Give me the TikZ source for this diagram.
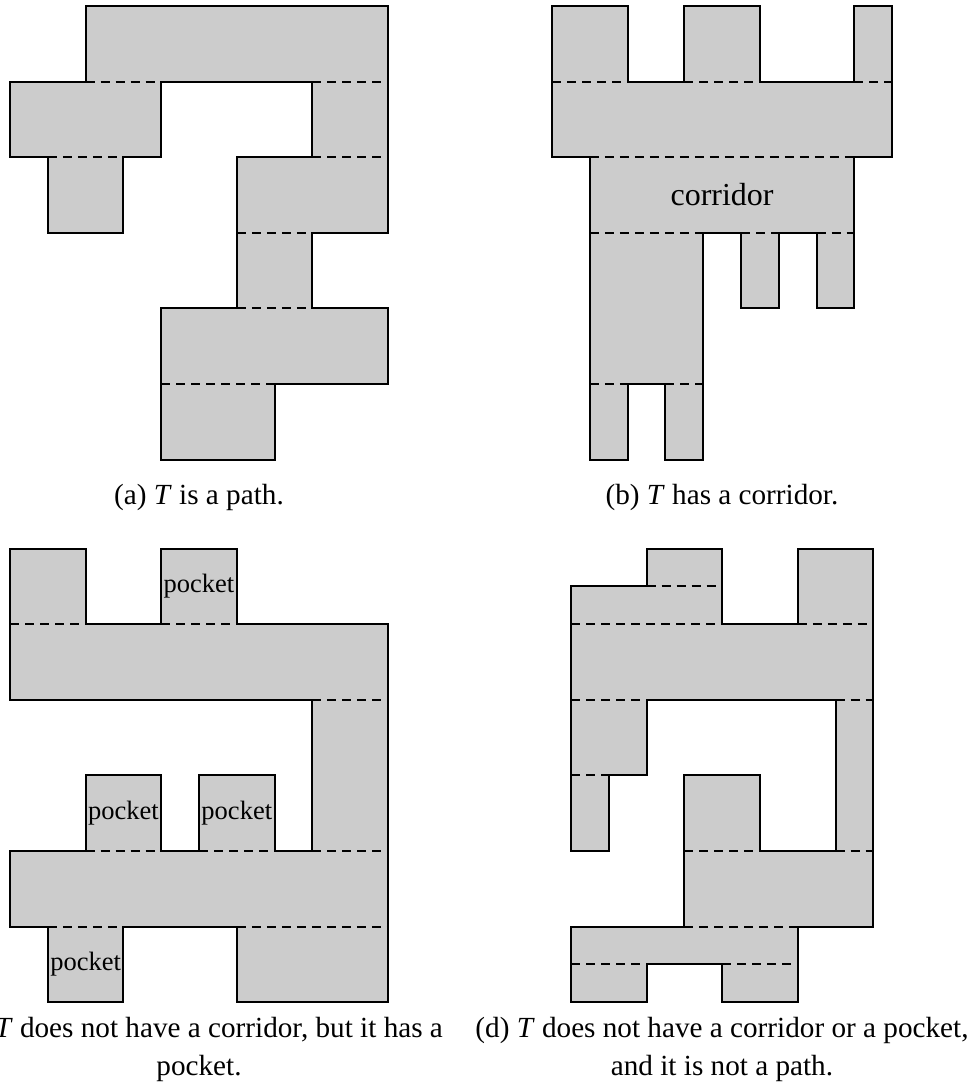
\documentclass[tikz,border=0pt]{standalone}
\usepackage{fontspec}
\setmainfont{Liberation Serif}
\definecolor{cellfill}{RGB}{204,204,204}
\tikzset{
  region/.style={fill=cellfill, draw=black, line width=2pt, line join=miter},
  cut/.style={draw=black, line width=2pt, dash pattern=on 9pt off 6pt},
  pocketlabel/.style={font=\fontsize{26.5}{26.5}\selectfont, inner sep=0pt},
  corridorlabel/.style={font=\fontsize{32}{32}\selectfont, inner sep=0pt},
  captiontext/.style={font=\fontsize{29.2}{36}\selectfont, anchor=base, inner sep=0pt},
}
\begin{document}
\begin{tikzpicture}[x=1pt, y=-1pt]
\useasboundingbox (0,0) rectangle (973,1090);

% (a) a path of rectangles
\begin{scope}[shift={(10pt,-6pt)}, x=37.8pt, y=-75.6pt]
  \draw[region] (2,0) -- (10,0) -- (10,3) -- (8,3) -- (8,4) -- (10,4) -- (10,5) -- (7,5) -- (7,6) -- (4,6) -- (4,4) -- (6,4) -- (6,2) -- (8,2) -- (8,1) -- (4,1) -- (4,2) -- (3,2) -- (3,3) -- (1,3) -- (1,2) -- (0,2) -- (0,1) -- (2,1) -- cycle;
  \draw[cut] (2,1) -- (4,1) (8,1) -- (10,1) (1,2) -- (3,2) (8,2) -- (10,2)
             (6,3) -- (8,3) (6,4) -- (8,4) (4,5) -- (7,5);
\end{scope}

% (b) a polygon with a corridor
\begin{scope}[shift={(552pt,-6pt)}, x=37.8pt, y=-75.6pt]
  \draw[region] (0,0) -- (2,0) -- (2,1) -- (3.5,1) -- (3.5,0) -- (5.5,0) -- (5.5,1) -- (8,1) -- (8,0) -- (9,0) -- (9,2) -- (8,2) -- (8,4) -- (7,4) -- (7,3) -- (6,3) -- (6,4) -- (5,4) -- (5,3) -- (4,3) -- (4,6) -- (3,6) -- (3,5) -- (2,5) -- (2,6) -- (1,6) -- (1,2) -- (0,2) -- cycle;
  \draw[cut] (0,1) -- (2,1) (3.5,1) -- (5.5,1) (8,1) -- (9,1) (1,2) -- (8,2)
             (1,3) -- (4,3) (5,3) -- (6,3) (7,3) -- (8,3) (1,5) -- (2,5) (3,5) -- (4,5);
  \node[corridorlabel] (corr) at (4.5,2.5) {corridor};
\end{scope}

% (c) no corridor, but pockets
\begin{scope}[shift={(10pt,-548.5pt)}, x=37.8pt, y=-75.6pt]
  \draw[region] (0,0) -- (2,0) -- (2,1) -- (4,1) -- (4,0) -- (6,0) -- (6,1) -- (10,1) -- (10,6) -- (6,6) -- (6,5) -- (3,5) -- (3,6) -- (1,6) -- (1,5) -- (0,5) -- (0,4) -- (2,4) -- (2,3) -- (4,3) -- (4,4) -- (5,4) -- (5,3) -- (7,3) -- (7,4) -- (8,4) -- (8,2) -- (0,2) -- cycle;
  \draw[cut] (0,1) -- (2,1) (4,1) -- (6,1) (8,2) -- (10,2) (2,4) -- (4,4)
             (5,4) -- (7,4) (8,4) -- (10,4) (1,5) -- (3,5) (6,5) -- (10,5);
  \node[pocketlabel] (pk1) at (5,0.5) {pocket};
  \node[pocketlabel] (pk2) at (3,3.5) {pocket};
  \node[pocketlabel] (pk3) at (6,3.5) {pocket};
  \node[pocketlabel] (pk4) at (2,5.5) {pocket};
\end{scope}

% (d) neither corridor nor pocket, not a path
\begin{scope}[shift={(571pt,-548.5pt)}, x=37.8pt, y=-75.6pt]
  \draw[region] (0,0.5) -- (2,0.5) -- (2,0) -- (4,0) -- (4,1) -- (6,1) -- (6,0) -- (8,0) -- (8,5) -- (6,5) -- (6,6) -- (4,6) -- (4,5.5) -- (2,5.5) -- (2,6) -- (0,6) -- (0,5) -- (3,5) -- (3,3) -- (5,3) -- (5,4) -- (7,4) -- (7,2) -- (2,2) -- (2,3) -- (1,3) -- (1,4) -- (0,4) -- cycle;
  \draw[cut] (2,0.5) -- (4,0.5) (0,1) -- (4,1) (6,1) -- (8,1) (0,2) -- (2,2)
             (7,2) -- (8,2) (0,3) -- (1,3) (3,4) -- (5,4) (7,4) -- (8,4)
             (3,5) -- (6,5) (0,5.5) -- (2,5.5) (4,5.5) -- (6,5.5);
\end{scope}

% captions
\node[captiontext] (capa) at (199,504) {(a) \textit{T} is a path.};
\node[captiontext] (capb) at (722,504) {(b) \textit{T} has a corridor.};
\node[captiontext] (capc1) at (199,1037) {(c) \textit{T} does not have a corridor, but it has a};
\node[captiontext] (capc2) at (199,1075) {pocket.};
\node[captiontext] (capd1) at (722,1037) {(d) \textit{T} does not have a corridor or a pocket,};
\node[captiontext] (capd2) at (722,1075) {and it is not a path.};
\end{tikzpicture}
\end{document}
